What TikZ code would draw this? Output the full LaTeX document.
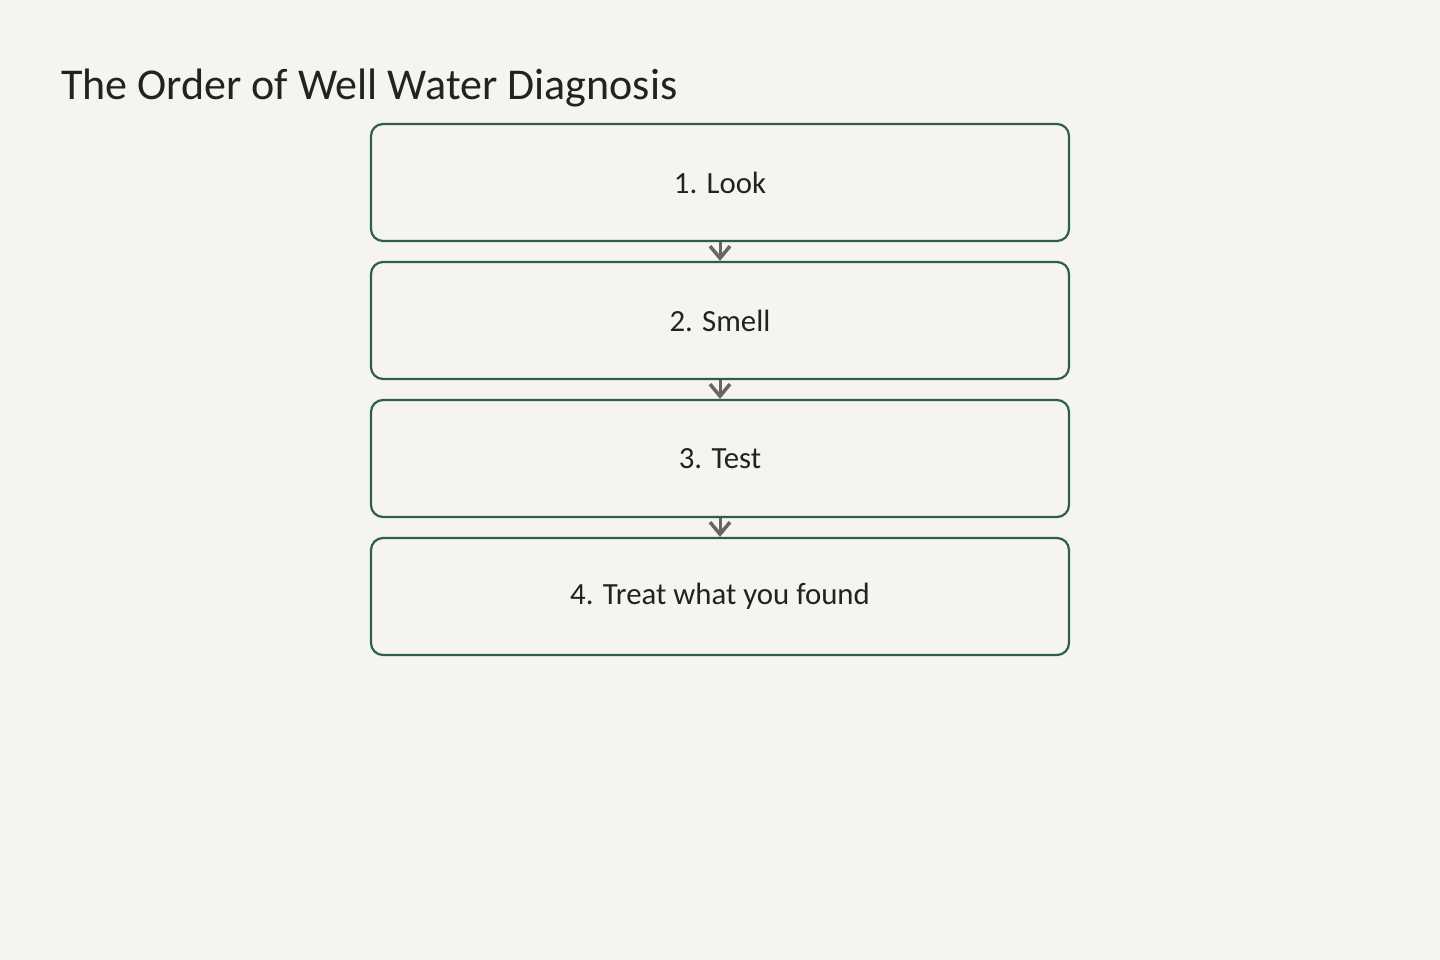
\documentclass[tikz,border=0pt]{standalone}
\usepackage{fontspec}
\setmainfont{Carlito}
\usetikzlibrary{arrows.meta}
\definecolor{bg}{HTML}{F5F4EF}
\definecolor{boxline}{HTML}{2D5E4E}
\definecolor{arr}{HTML}{666666}
\definecolor{txt}{HTML}{222222}
\tikzset{
  stepbox/.style={draw=boxline, line width=2.2pt, rounded corners=12pt, minimum width=698pt, minimum height=117pt, inner sep=0pt, text=txt, font=\fontsize{30.8}{34}\selectfont},
  flow/.style={draw=arr, line width=3pt, -{Straight Barb[length=12pt,width=20pt,line width=3.5pt]}},
}
\begin{document}
\begin{tikzpicture}[x=1pt,y=-1pt]
\fill[bg] (0,0) rectangle (1440,960);
\useasboundingbox (0,0) rectangle (1440,960);
\node[anchor=base west, text=txt, font=\fontsize{44}{50}\selectfont, inner sep=0pt] (title) at (61,100) {The Order of Well Water Diagnosis};
\node[stepbox] (s1) at (720,182.5) {1. Look};
\node[stepbox] (s2) at (720,320.5) {2. Smell};
\node[stepbox] (s3) at (720,458.5) {3. Test};
\node[stepbox] (s4) at (720,596.5) {4. Treat what you found};
\draw[flow] (s1.south) -- (s2.north);
\draw[flow] (s2.south) -- (s3.north);
\draw[flow] (s3.south) -- (s4.north);
\end{tikzpicture}
\end{document}
